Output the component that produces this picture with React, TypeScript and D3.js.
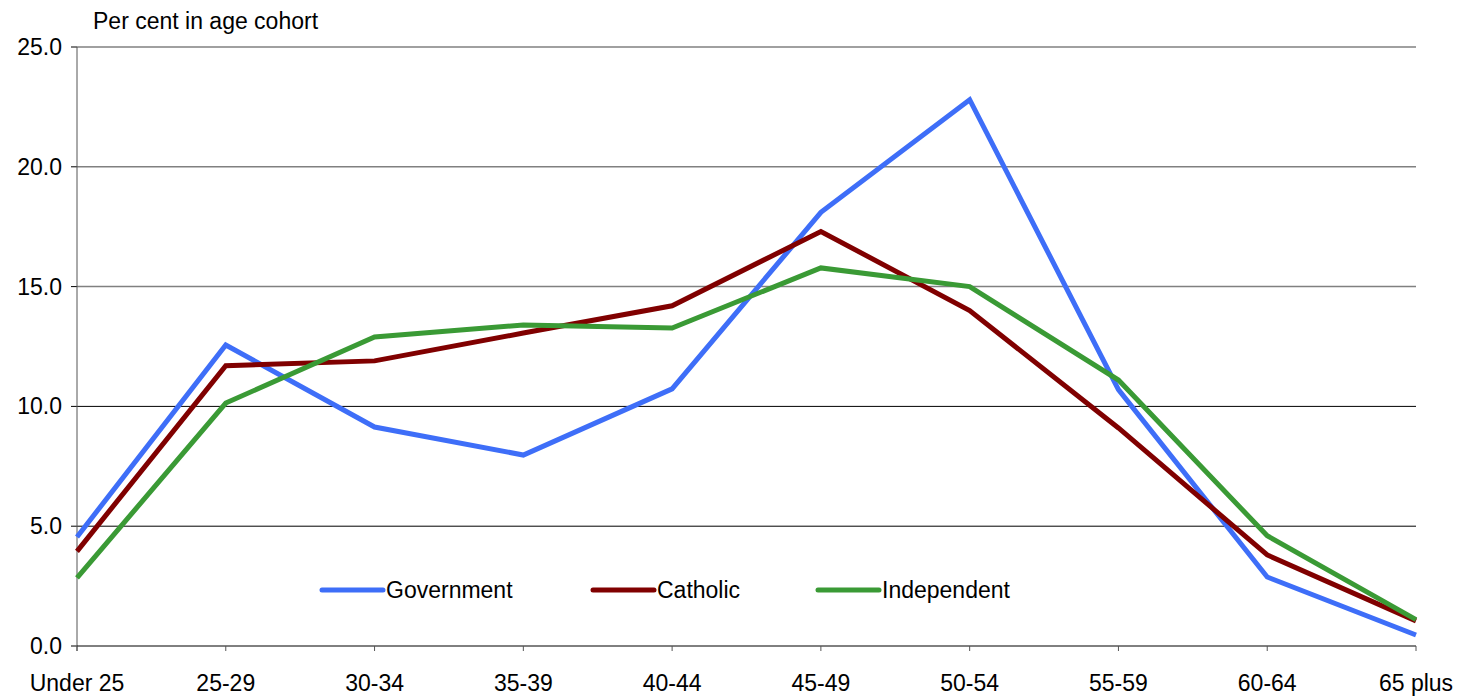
import * as d3 from 'd3';

const categories = ['Under 25', '25-29', '30-34', '35-39', '40-44', '45-49', '50-54', '55-59', '60-64', '65 plus'];
const government = [4.55, 12.56, 9.14, 7.97, 10.73, 18.1, 22.8, 10.7, 2.88, 0.46];
const catholic = [3.95, 11.7, 11.9, 13.06, 14.2, 17.3, 14.0, 9.1, 3.8, 1.05];
const independent = [2.84, 10.14, 12.9, 13.4, 13.27, 15.78, 15.0, 11.1, 4.6, 1.1];
const yTicks = [0, 5, 10, 15, 20, 25];

const series = [
    { name: 'Government', values: government, color: '#3e6ef8' },
    { name: 'Catholic', values: catholic, color: '#800000' },
    { name: 'Independent', values: independent, color: '#3a9a35' },
];

export default function App() {
    const width = 1460;
    const height = 697;
    const margin = { top: 47, right: 44, bottom: 51, left: 77 };
    const innerWidth = width - margin.left - margin.right;
    const innerHeight = height - margin.top - margin.bottom;

    const xScale = d3.scalePoint().domain(categories).range([0, innerWidth]);
    const yScale = d3.scaleLinear().domain([0, 25]).range([innerHeight, 0]);

    const line = d3
        .line<number>()
        .x((d, i) => xScale(categories[i]))
        .y((d) => yScale(d));

    const font = 'Liberation Sans, Arial, sans-serif';
    const legendX = [322, 593, 818];

    return (
        <svg width={width} height={height} style={{ position: 'absolute', left: 0, top: 0 }} fontFamily={font}>
            <text x={93} y={29} fontSize={23}>Per cent in age cohort</text>
            <g transform={`translate(${margin.left}, ${margin.top})`}>
                {yTicks.map((t) => (
                    <g key={t}>
                        {t > 0 && (
                            <line
                                x1={0}
                                x2={innerWidth}
                                y1={yScale(t)}
                                y2={yScale(t)}
                                stroke={t >= 15 ? '#808080' : '#000'}
                                strokeWidth={t >= 15 ? 1.5 : 1}
                            />
                        )}
                        <line x1={-6} x2={0} y1={yScale(t)} y2={yScale(t)} stroke="#000" />
                        <text x={-15} y={yScale(t)} dy="0.35em" textAnchor="end" fontSize={23}>
                            {t.toFixed(1)}
                        </text>
                    </g>
                ))}
                <line x1={0} x2={0} y1={0} y2={innerHeight + 5} stroke="#555" />
                <line x1={0} x2={innerWidth} y1={innerHeight} y2={innerHeight} stroke="#000" />
                {categories.map((c) => (
                    <g key={c}>
                        <line x1={xScale(c)} x2={xScale(c)} y1={innerHeight} y2={innerHeight + 5} stroke="#555" />
                        <text x={xScale(c)} y={innerHeight + 45} textAnchor="middle" fontSize={23}>
                            {c}
                        </text>
                    </g>
                ))}
                {series.map((s) => (
                    <path
                        key={s.name}
                        d={line(s.values) || ''}
                        fill="none"
                        stroke={s.color}
                        strokeWidth={5}
                        strokeLinejoin="miter"
                    />
                ))}
            </g>
            {series.map((s, i) => (
                <g key={s.name} transform={`translate(${legendX[i]}, 590)`}>
                    <line x1={0} x2={61} y1={0} y2={0} stroke={s.color} strokeWidth={5} strokeLinecap="round" />
                    <text x={64} y={0} dy="0.35em" fontSize={23}>{s.name}</text>
                </g>
            ))}
        </svg>
    );
}
